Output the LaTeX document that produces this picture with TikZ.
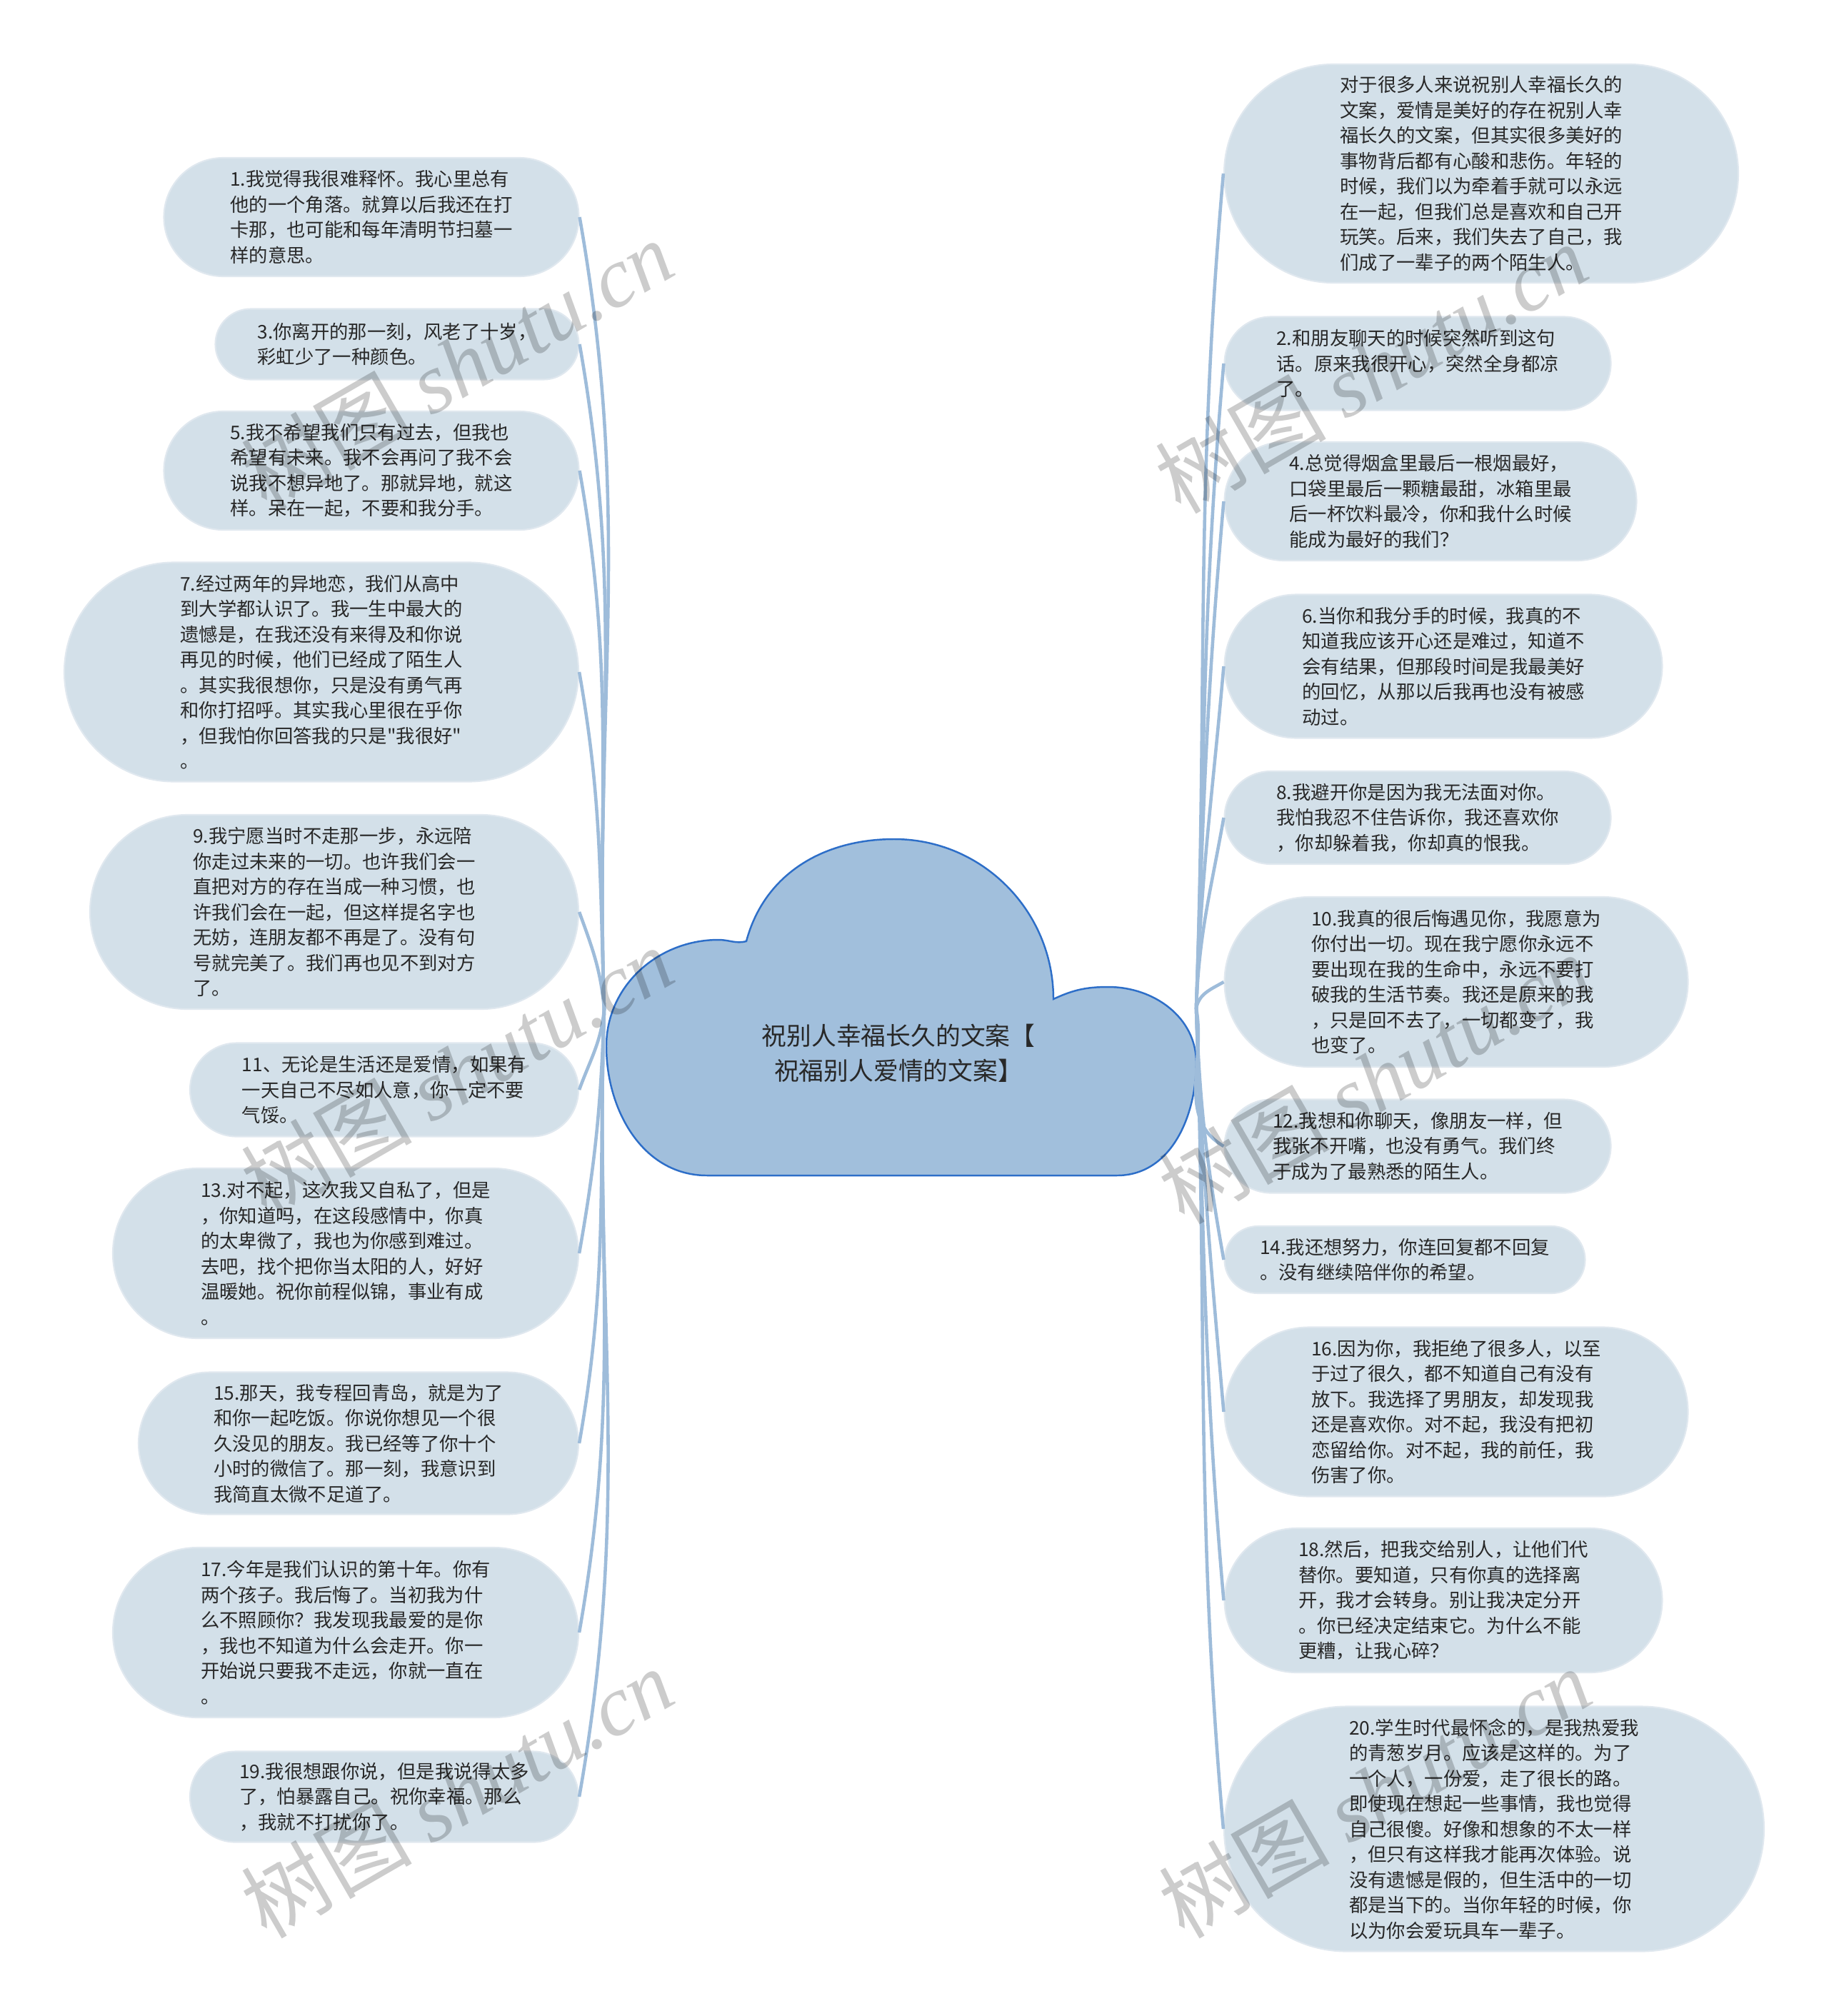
\documentclass[tikz,border=0pt]{standalone}
\usepackage{fontspec}
\setmainfont{Noto Sans CJK SC}[Ligatures=TeXOff]
\newfontfamily\wmserif{Liberation Serif}
\usetikzlibrary{shapes.misc}
\definecolor{bubfill}{RGB}{211,224,233}
\definecolor{bubedge}{RGB}{224,232,239}
\definecolor{linkc}{RGB}{158,188,218}
\definecolor{cloudfill}{RGB}{161,191,220}
\definecolor{cloudedge}{RGB}{45,110,200}
\definecolor{txt}{RGB}{40,40,40}
\begin{document}
\begin{tikzpicture}[
          bub/.style={rounded rectangle, fill=bubfill, draw=bubedge, line width=0.6pt, align=left, inner sep=0pt, text=txt, font=\fontsize{7.5}{10.1}\selectfont},
          cloudshape/.style={fill=cloudfill, draw=cloudedge, line width=0.7pt},
          title/.style={align=center, text=txt, font=\fontsize{9.9}{13.9}\selectfont},
          link/.style={draw=linkc, line width=1.3pt},
          wm/.style={rotate=30, text=black, text opacity=0.2, font=\fontsize{34}{34}\selectfont}]
        \useasboundingbox (0,0) rectangle (25.6,-28.23);
        \draw[cloudshape] (9.90,-16.46) to[out=180,in=-90] (8.49,-14.65) to[out=90,in=180] (10.06,-13.16)
          to[out=0,in=195] (10.45,-13.18) to[out=75,in=180] (12.52,-11.75) to[out=0,in=90] (14.75,-13.99)
          to[out=25,in=180] (15.52,-13.82) to[out=0,in=90] (16.75,-14.88) to[out=-90,in=0] (15.64,-16.46) -- cycle;
        \node[title] (root) at (12.58,-14.75) {祝别人幸福长久的文案【\\祝福别人爱情的文案】};
        \coordinate (hubL) at (8.46,-14.13);
        \coordinate (hubR) at (16.75,-14.12);
        \node[bub, minimum width=7.20cm, minimum height=3.06cm] (n0) at (20.74,-2.43) {对于很多人来说祝别人幸福长久的\\文案，爱情是美好的存在祝别人幸\\福长久的文案，但其实很多美好的\\事物背后都有心酸和悲伤。年轻的\\时候，我们以为牵着手就可以永远\\在一起，但我们总是喜欢和自己开\\玩笑。后来，我们失去了自己，我\\们成了一辈子的两个陌生人。};
        \node[bub, minimum width=5.81cm, minimum height=1.66cm] (n1) at (5.20,-3.04) {1.我觉得我很难释怀。我心里总有\\他的一个角落。就算以后我还在打\\卡那，也可能和每年清明节扫墓一\\样的意思。};
        \node[bub, minimum width=5.41cm, minimum height=1.31cm] (n2) at (19.85,-5.09) {2.和朋友聊天的时候突然听到这句\\话。原来我很开心，突然全身都凉\\了。};
        \node[bub, minimum width=5.09cm, minimum height=0.99cm] (n3) at (5.56,-4.82) {3.你离开的那一刻，风老了十岁，\\彩虹少了一种颜色。};
        \node[bub, minimum width=5.77cm, minimum height=1.66cm] (n4) at (20.03,-7.02) {4.总觉得烟盒里最后一根烟最好，\\口袋里最后一颗糖最甜，冰箱里最\\后一杯饮料最冷，你和我什么时候\\能成为最好的我们？};
        \node[bub, minimum width=5.81cm, minimum height=1.66cm] (n5) at (5.20,-6.59) {5.我不希望我们只有过去，但我也\\希望有未来。我不会再问了我不会\\说我不想异地了。那就异地，就这\\样。呆在一起，不要和我分手。};
        \node[bub, minimum width=6.13cm, minimum height=2.01cm] (n6) at (20.21,-9.33) {6.当你和我分手的时候，我真的不\\知道我应该开心还是难过，知道不\\会有结果，但那段时间是我最美好\\的回忆，从那以后我再也没有被感\\动过。};
        \node[bub, minimum width=7.20cm, minimum height=3.07cm] (n7) at (4.50,-9.41) {7.经过两年的异地恋，我们从高中\\到大学都认识了。我一生中最大的\\遗憾是，在我还没有来得及和你说\\再见的时候，他们已经成了陌生人\\。其实我很想你，只是没有勇气再\\和你打招呼。其实我心里很在乎你\\，但我怕你回答我的只是"我很好"\\。};
        \node[bub, minimum width=5.41cm, minimum height=1.30cm] (n8) at (19.85,-11.45) {8.我避开你是因为我无法面对你。\\我怕我忍不住告诉你，我还喜欢你\\，你却躲着我，你却真的恨我。};
        \node[bub, minimum width=6.84cm, minimum height=2.72cm] (n9) at (4.68,-12.77) {9.我宁愿当时不走那一步，永远陪\\你走过未来的一切。也许我们会一\\直把对方的存在当成一种习惯，也\\许我们会在一起，但这样提名字也\\无妨，连朋友都不再是了。没有句\\号就完美了。我们再也见不到对方\\了。};
        \node[bub, minimum width=6.49cm, minimum height=2.38cm] (n10) at (20.39,-13.75) {10.我真的很后悔遇见你，我愿意为\\你付出一切。现在我宁愿你永远不\\要出现在我的生命中，永远不要打\\破我的生活节奏。我还是原来的我\\，只是回不去了，一切都变了，我\\也变了。};
        \node[bub, minimum width=5.44cm, minimum height=1.31cm] (n11) at (5.38,-15.26) {11、无论是生活还是爱情，如果有\\一天自己不尽如人意，你一定不要\\气馁。};
        \node[bub, minimum width=5.41cm, minimum height=1.31cm] (n12) at (19.85,-16.05) {12.我想和你聊天，像朋友一样，但\\我张不开嘴，也没有勇气。我们终\\于成为了最熟悉的陌生人。};
        \node[bub, minimum width=6.52cm, minimum height=2.38cm] (n13) at (4.84,-17.55) {13.对不起，这次我又自私了，但是\\，你知道吗，在这段感情中，你真\\的太卑微了，我也为你感到难过。\\去吧，找个把你当太阳的人，好好\\温暖她。祝你前程似锦，事业有成\\。};
        \node[bub, minimum width=5.05cm, minimum height=0.94cm] (n14) at (19.67,-17.64) {14.我还想努力，你连回复都不回复\\。没有继续陪伴你的希望。};
        \node[bub, minimum width=6.16cm, minimum height=1.99cm] (n15) at (5.02,-20.21) {15.那天，我专程回青岛，就是为了\\和你一起吃饭。你说你想见一个很\\久没见的朋友。我已经等了你十个\\小时的微信了。那一刻，我意识到\\我简直太微不足道了。};
        \node[bub, minimum width=6.49cm, minimum height=2.37cm] (n16) at (20.39,-19.77) {16.因为你，我拒绝了很多人，以至\\于过了很久，都不知道自己有没有\\放下。我选择了男朋友，却发现我\\还是喜欢你。对不起，我没有把初\\恋留给你。对不起，我的前任，我\\伤害了你。};
        \node[bub, minimum width=6.52cm, minimum height=2.38cm] (n17) at (4.84,-22.86) {17.今年是我们认识的第十年。你有\\两个孩子。我后悔了。当初我为什\\么不照顾你？我发现我最爱的是你\\，我也不知道为什么会走开。你一\\开始说只要我不走远，你就一直在\\。};
        \node[bub, minimum width=6.13cm, minimum height=2.02cm] (n18) at (20.21,-22.41) {18.然后，把我交给别人，让他们代\\替你。要知道，只有你真的选择离\\开，我才会转身。别让我决定分开\\。你已经决定结束它。为什么不能\\更糟，让我心碎？};
        \node[bub, minimum width=5.44cm, minimum height=1.27cm] (n19) at (5.38,-25.16) {19.我很想跟你说，但是我说得太多\\了，怕暴露自己。祝你幸福。那么\\，我就不打扰你了。};
        \node[bub, minimum width=7.56cm, minimum height=3.43cm] (n20) at (20.92,-25.61) {20.学生时代最怀念的，是我热爱我\\的青葱岁月。应该是这样的。为了\\一个人，一份爱，走了很长的路。\\即使现在想起一些事情，我也觉得\\自己很傻。好像和想象的不太一样\\，但只有这样我才能再次体验。说\\没有遗憾是假的，但生活中的一切\\都是当下的。当你年轻的时候，你\\以为你会爱玩具车一辈子。};
        \draw[link] (hubL) to[out=92,in=-80] (n1.east);
        \draw[link] (hubL) to[out=92,in=-80] (n3.east);
        \draw[link] (hubL) to[out=92,in=-80] (n5.east);
        \draw[link] (hubL) to[out=92,in=-80] (n7.east);
        \draw[link] (hubL) to[out=95,in=-70] (n9.east);
        \draw[link] (hubL) to[out=-95,in=70] (n11.east);
        \draw[link] (hubL) to[out=-92,in=80] (n13.east);
        \draw[link] (hubL) to[out=-92,in=80] (n15.east);
        \draw[link] (hubL) to[out=-92,in=80] (n17.east);
        \draw[link] (hubL) to[out=-92,in=80] (n19.east);
        \draw[link] (hubR) to[out=88,in=-95] (n0.west);
        \draw[link] (hubR) to[out=88,in=-95] (n2.west);
        \draw[link] (hubR) to[out=88,in=-95] (n4.west);
        \draw[link] (hubR) to[out=88,in=-95] (n6.west);
        \draw[link] (hubR) to[out=88,in=-100] (n8.west);
        \draw[link] (hubR) to[out=80,in=-150] (n10.west);
        \draw[link] (hubR) to[out=-80,in=150] (n12.west);
        \draw[link] (hubR) to[out=-88,in=100] (n14.west);
        \draw[link] (hubR) to[out=-88,in=95] (n16.west);
        \draw[link] (hubR) to[out=-88,in=95] (n18.west);
        \draw[link] (hubR) to[out=-88,in=95] (n20.west);
        \node[wm] (w1) at (6.40,-5.10) {树图 {\wmserif\itshape shutu.cn}};
        \node[wm] (w2) at (19.20,-5.15) {树图 {\wmserif\itshape shutu.cn}};
        \node[wm] (w3) at (6.40,-15.00) {树图 {\wmserif\itshape shutu.cn}};
        \node[wm] (w4) at (19.25,-15.10) {树图 {\wmserif\itshape shutu.cn}};
        \node[wm] (w5) at (6.40,-25.10) {树图 {\wmserif\itshape shutu.cn}};
        \node[wm] (w6) at (19.25,-25.10) {树图 {\wmserif\itshape shutu.cn}};
      \end{tikzpicture}
\end{document}
